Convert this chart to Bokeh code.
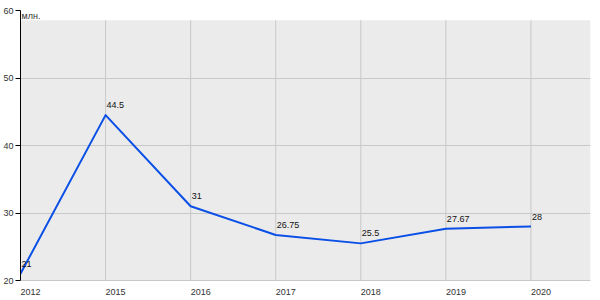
from bokeh.plotting import figure
from bokeh.models import BoxAnnotation, Grid, FixedTicker, Label, ColumnDataSource, Range1d, LinearAxis
from bokeh.core.properties import value
from bokeh.embed import file_html
from bokeh.resources import INLINE

years = ["2012", "2015", "2016", "2017", "2018", "2019", "2020"]
values = [21, 44.5, 31, 26.75, 25.5, 27.67, 28]
labels = ["21", "44.5", "31", "26.75", "25.5", "27.67", "28"]
y_ticks = [20, 30, 40, 50, 60]
unit = "млн."

idx = list(range(len(years)))
Y_MIN, Y_MAX = 20, 60
X_END = 6.7
LABEL_SHIFT = 0.118  # shift so year labels start at their grid line
SHADE_TOP = 58.55
FONT = "Liberation Sans"

p = figure(width=600, height=300, output_backend="svg", toolbar_location=None,
           x_range=Range1d(0, X_END), y_range=Range1d(Y_MIN, Y_MAX),
           x_axis_location=None,
           min_border_left=20, min_border_right=10, min_border_top=10, min_border_bottom=20)
p.outline_line_color = None
p.background_fill_color = "white"
p.xgrid.visible = False
p.ygrid.visible = False

shade = BoxAnnotation(bottom=Y_MIN, top=SHADE_TOP, fill_color="#ebebeb", fill_alpha=1,
                      line_color=None, level="underlay")
p.add_layout(shade)

yg = Grid(dimension=1, ticker=FixedTicker(ticks=y_ticks), grid_line_color="#c8c8c8",
          grid_line_width=1, level="underlay")
p.add_layout(yg, "center")

# vertical grid lines, only within the shaded area
p.segment(x0=idx, y0=[Y_MIN] * len(idx), x1=idx, y1=[SHADE_TOP] * len(idx),
          line_color="#c8c8c8", line_width=1)

src = ColumnDataSource(dict(x=idx, y=values, t=labels))
p.line("x", "y", source=src, line_color="#0a4fe6", line_width=2, line_join="round")
p.text("x", "y", text="t", source=src, text_font=value(FONT), text_font_size="9px",
       text_color="#111111", text_baseline="alphabetic", text_align="left",
       x_offset=1, y_offset=-10)

# axes
p.yaxis.ticker = FixedTicker(ticks=y_ticks)
p.yaxis.axis_line_color = "black"
p.yaxis.major_tick_line_color = "black"
p.yaxis.major_tick_out = 5
p.yaxis.major_tick_in = 0
p.yaxis.minor_tick_line_color = None
p.yaxis.major_label_standoff = 2
p.yaxis.major_label_text_font = FONT
p.yaxis.major_label_text_font_size = "9px"
p.yaxis.major_label_text_color = "#333333"

p.extra_x_ranges = {"lab": Range1d(-LABEL_SHIFT, X_END - LABEL_SHIFT)}
xax = LinearAxis(x_range_name="lab", ticker=FixedTicker(ticks=idx),
                 major_label_overrides={i: y for i, y in zip(idx, years)})
xax.axis_line_color = "#c8c8c8"
xax.major_tick_line_color = None
xax.minor_tick_line_color = None
xax.major_label_standoff = 2
xax.major_label_text_font = FONT
xax.major_label_text_font_size = "9px"
xax.major_label_text_color = "#333333"
p.add_layout(xax, "below")

p.add_layout(Label(x=0, y=Y_MAX, text=unit, x_offset=1, y_offset=-5,
                   text_font=FONT, text_font_size="9px", text_color="#333333",
                   text_baseline="alphabetic"))

open("out.html", "w").write(file_html(p, INLINE))
